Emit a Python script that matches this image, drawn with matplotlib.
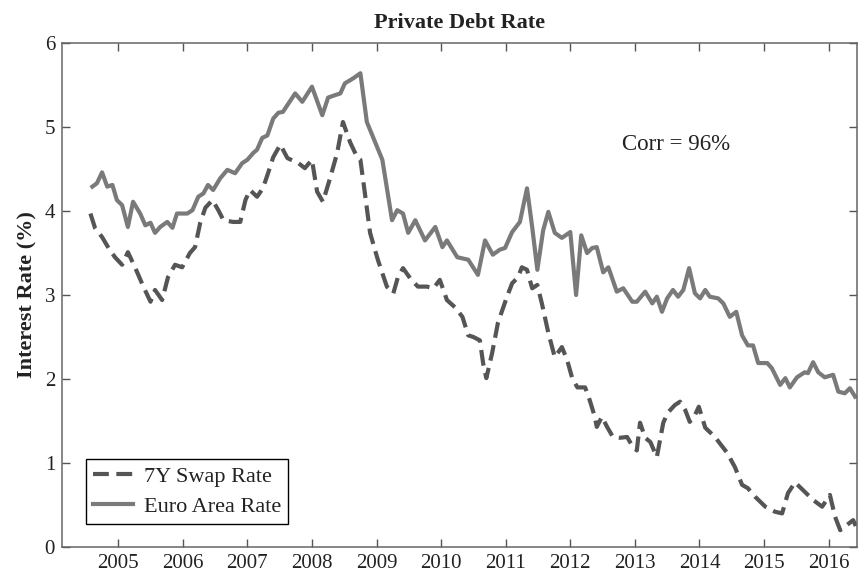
import matplotlib
matplotlib.use("Agg")
import matplotlib.pyplot as plt

plt.rcParams['font.family'] = ['Liberation Serif', 'DejaVu Serif']

# Euro Area Rate (solid), decimal years and %
euro_t = [2004.60, 2004.67, 2004.75, 2004.83, 2004.91, 2004.98, 2005.06, 2005.15, 2005.23, 2005.34,
          2005.42, 2005.50, 2005.57, 2005.65, 2005.76, 2005.84, 2005.91, 2006.07, 2006.15, 2006.24,
          2006.32, 2006.39, 2006.47, 2006.58, 2006.69, 2006.81, 2006.92, 2007.00, 2007.09, 2007.15,
          2007.23, 2007.31, 2007.40, 2007.48, 2007.55, 2007.74, 2007.85, 2008.00, 2008.16, 2008.25,
          2008.36, 2008.44, 2008.51, 2008.64, 2008.75, 2008.85, 2009.09, 2009.24, 2009.32, 2009.41,
          2009.49, 2009.60, 2009.75, 2009.91, 2010.02, 2010.09, 2010.25, 2010.42, 2010.57, 2010.68,
          2010.80, 2010.91, 2010.99, 2011.10, 2011.22, 2011.33, 2011.41, 2011.49, 2011.58, 2011.66,
          2011.76, 2011.87, 2012.00, 2012.09, 2012.17, 2012.26, 2012.34, 2012.41, 2012.51, 2012.59,
          2012.72, 2012.82, 2012.96, 2013.03, 2013.16, 2013.27, 2013.34, 2013.42, 2013.50, 2013.59,
          2013.67, 2013.75, 2013.84, 2013.93, 2014.01, 2014.09, 2014.16, 2014.29, 2014.37, 2014.47,
          2014.57, 2014.66, 2014.75, 2014.83, 2014.91, 2015.05, 2015.12, 2015.25, 2015.33, 2015.40,
          2015.51, 2015.63, 2015.68, 2015.76, 2015.84, 2015.94, 2016.07, 2016.15, 2016.25, 2016.33,
          2016.41]
euro_rate = [4.29, 4.33, 4.46, 4.29, 4.31, 4.13, 4.07, 3.81, 4.11, 3.97,
             3.83, 3.86, 3.74, 3.81, 3.87, 3.80, 3.97, 3.97, 4.01, 4.17,
             4.21, 4.31, 4.25, 4.39, 4.49, 4.45, 4.57, 4.61, 4.69, 4.73,
             4.87, 4.90, 5.10, 5.17, 5.18, 5.40, 5.30, 5.48, 5.14, 5.35,
             5.38, 5.40, 5.52, 5.58, 5.64, 5.06, 4.61, 3.89, 4.01, 3.97,
             3.74, 3.89, 3.65, 3.81, 3.57, 3.65, 3.45, 3.42, 3.24, 3.65,
             3.48, 3.54, 3.56, 3.75, 3.87, 4.27, 3.81, 3.30, 3.77, 3.99,
             3.74, 3.68, 3.75, 3.00, 3.71, 3.50, 3.56, 3.57, 3.27, 3.33,
             3.04, 3.08, 2.92, 2.92, 3.04, 2.90, 2.98, 2.80, 2.96, 3.06,
             2.98, 3.06, 3.32, 3.02, 2.96, 3.06, 2.98, 2.96, 2.90, 2.74,
             2.80, 2.52, 2.40, 2.40, 2.19, 2.19, 2.13, 1.93, 2.01, 1.90,
             2.02, 2.08, 2.07, 2.20, 2.08, 2.02, 2.05, 1.85, 1.83, 1.89,
             1.79]

# 7Y Swap Rate (dashed)
swap_t = [2004.57, 2004.64, 2004.75, 2004.85, 2004.95, 2005.06, 2005.15, 2005.26, 2005.39, 2005.50,
          2005.57, 2005.68, 2005.77, 2005.88, 2005.99, 2006.11, 2006.19, 2006.27, 2006.35, 2006.46,
          2006.55, 2006.63, 2006.78, 2006.89, 2006.97, 2007.04, 2007.15, 2007.24, 2007.32, 2007.40,
          2007.51, 2007.62, 2007.79, 2007.89, 2008.00, 2008.08, 2008.17, 2008.28, 2008.39, 2008.48,
          2008.59, 2008.70, 2008.75, 2008.82, 2008.90, 2009.02, 2009.16, 2009.26, 2009.33, 2009.41,
          2009.52, 2009.64, 2009.78, 2009.88, 2009.98, 2010.09, 2010.22, 2010.33, 2010.42, 2010.50,
          2010.60, 2010.65, 2010.70, 2010.79, 2010.88, 2011.02, 2011.10, 2011.19, 2011.25, 2011.33,
          2011.41, 2011.49, 2011.56, 2011.66, 2011.76, 2011.87, 2011.95, 2012.03, 2012.11, 2012.23,
          2012.30, 2012.38, 2012.41, 2012.49, 2012.57, 2012.66, 2012.77, 2012.88, 2012.97, 2013.03,
          2013.08, 2013.16, 2013.24, 2013.34, 2013.44, 2013.51, 2013.62, 2013.70, 2013.78, 2013.85,
          2013.93, 2013.99, 2014.09, 2014.24, 2014.43, 2014.55, 2014.66, 2014.75, 2014.86, 2015.02,
          2015.17, 2015.28, 2015.37, 2015.48, 2015.60, 2015.76, 2015.90, 2016.02, 2016.10, 2016.18,
          2016.28, 2016.38, 2016.42]
swap_rate = [3.97, 3.80, 3.69, 3.56, 3.45, 3.36, 3.51, 3.33, 3.10, 2.92,
             3.06, 2.94, 3.21, 3.36, 3.33, 3.50, 3.57, 3.86, 4.04, 4.13,
             4.01, 3.89, 3.87, 3.87, 4.13, 4.25, 4.17, 4.27, 4.45, 4.64,
             4.79, 4.63, 4.57, 4.51, 4.61, 4.23, 4.11, 4.39, 4.69, 5.06,
             4.82, 4.64, 4.61, 4.21, 3.74, 3.42, 3.10, 3.02, 3.21, 3.32,
             3.20, 3.10, 3.10, 3.08, 3.18, 2.94, 2.85, 2.74, 2.52, 2.50,
             2.46, 2.19, 2.01, 2.31, 2.67, 2.98, 3.14, 3.21, 3.33, 3.30,
             3.08, 3.12, 2.90, 2.55, 2.26, 2.38, 2.23, 2.01, 1.90, 1.90,
             1.75, 1.55, 1.43, 1.55, 1.43, 1.31, 1.30, 1.31, 1.19, 1.15,
             1.48, 1.30, 1.25, 1.07, 1.48, 1.60, 1.69, 1.73, 1.63, 1.49,
             1.57, 1.67, 1.42, 1.31, 1.12, 0.95, 0.74, 0.70, 0.60, 0.48,
             0.42, 0.40, 0.64, 0.77, 0.68, 0.56, 0.48, 0.62, 0.36, 0.20,
             0.26, 0.32, 0.25]

years = list(range(2005, 2017))
yticks = [0, 1, 2, 3, 4, 5, 6]

fig = plt.figure(figsize=(8.59, 5.72), dpi=100)
ax = fig.add_axes([0.0722, 0.0437, 0.9255, 0.8811])

ax.plot(swap_t, swap_rate, color='#555555', lw=3.0, ls=(0, (3.8, 1.8)), label='7Y Swap Rate')
ax.plot(euro_t, euro_rate, color='#7a7a7a', lw=3.0, label='Euro Area Rate')

ax.set_xlim(2004.13, 2016.44)
ax.set_ylim(0, 6)
ax.set_xticks(years)
ax.set_yticks(yticks)
ax.tick_params(direction='in', top=True, right=True, length=5.5, width=1, pad=5,
               colors='#555555', labelcolor='#222222', labelsize=15)
for s in ax.spines.values():
    s.set_color('#666666')
    s.set_linewidth(1.1)

ax.set_title('Private Debt Rate', fontsize=16, fontweight='bold', pad=11, color='#222222')
ax.set_ylabel('Interest Rate (%)', fontsize=16, fontweight='bold', labelpad=5, color='#222222')
ax.text(2013.64, 4.79, 'Corr = 96%', fontsize=16.5, ha='center', va='center', color='#222222')

leg = ax.legend(loc='lower left', bbox_to_anchor=(0.030, 0.046), fontsize=16,
                fancybox=False, framealpha=1, edgecolor='black', handlelength=1.8,
                borderpad=0.3, labelspacing=0.45, handletextpad=0.5, borderaxespad=0)
leg.get_frame().set_linewidth(1)
for t in leg.get_texts():
    t.set_color('#222222')

fig.savefig('out.png', dpi=100)
